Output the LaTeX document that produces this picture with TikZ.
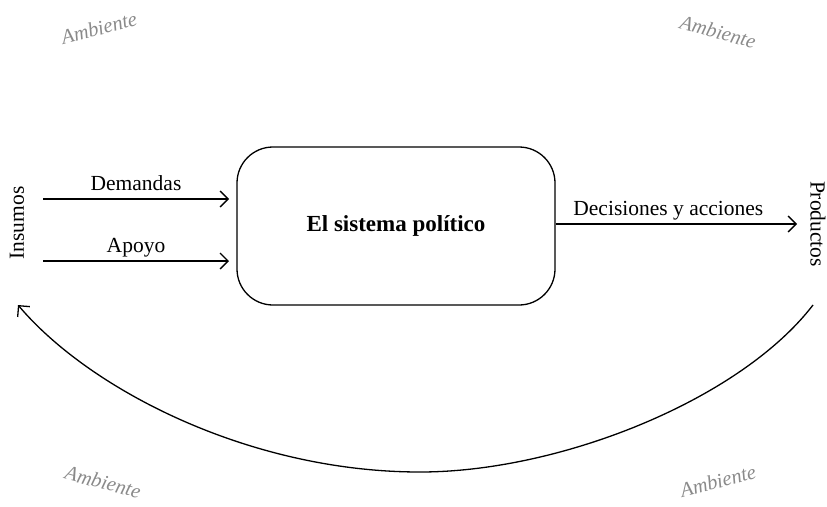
\documentclass[tikz,border=0pt]{standalone}
\usepackage{fontspec}
\setmainfont{Liberation Serif}
\usetikzlibrary{arrows.meta}
\definecolor{envgray}{HTML}{8A8A8A}
\begin{document}
\begin{tikzpicture}[x=1pt,y=-1pt,
  flow/.style={line width=1.3pt,-{Straight Barb[length=8pt,width=16pt,line width=1.3pt]}},
  lbl/.style={font=\fontsize{21.5}{26}\selectfont,inner sep=0pt},
  above lbl/.style={lbl,anchor=base,yshift=9pt},
  env/.style={font=\fontsize{20.5}{24}\selectfont\itshape,text=envgray,inner sep=0pt},
  sysbox/.style={draw,line width=1.3pt,rounded corners=36pt,minimum width=318pt,minimum height=158pt,
    font=\fontsize{23}{28}\selectfont\bfseries,inner sep=0pt}]
\useasboundingbox (0,0) rectangle (827,506);

% the system
\node[sysbox] (sys) at (396,226) {El sistema político};

% inputs side
\node[lbl,rotate=90] (insumos) at (17,223) {Insumos};
\coordinate (d0) at (43,199);
\coordinate (d1) at (229,199);
\coordinate (a0) at (43,261);
\coordinate (a1) at (229,261);
\draw[flow] (d0) -- node[above lbl] (dem) {Demandas} (d1);
\draw[flow] (a0) -- node[above lbl] (apo) {Apoyo} (a1);

% outputs side
\node[lbl,rotate=-90] (prod) at (818,224) {Productos};
\coordinate (o1) at (797,224);
\draw[flow] (sys.east |- o1) -- node[above lbl,xshift=-8pt] (dec) {Decisiones y acciones} (o1);

% feedback loop, flat at the bottom
\coordinate (f0) at (813,305);
\coordinate (fm) at (420,472);
\coordinate (f1) at (18,305);
\draw[flow] (f0) .. controls (740,400) and (560,472) .. (fm)
                 .. controls (250,472) and (90,390) .. (f1);

% environment labels
\node[env,rotate=15]  (amb1) at (99,28)  {Ambiente};
\node[env,rotate=-15] (amb2) at (718,32) {Ambiente};
\node[env,rotate=-15] (amb3) at (103,482) {Ambiente};
\node[env,rotate=15]  (amb4) at (718,481) {Ambiente};
\end{tikzpicture}
\end{document}
